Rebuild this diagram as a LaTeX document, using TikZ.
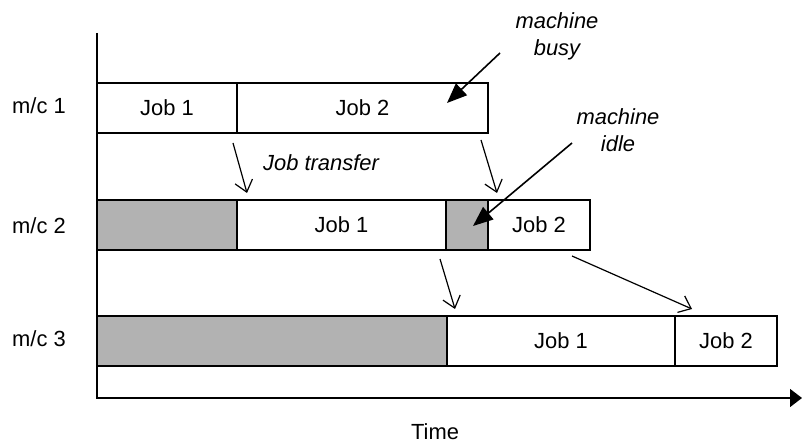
\documentclass[tikz,border=0pt]{standalone}
\usepackage{fontspec}
\setmainfont{Liberation Sans}
\usetikzlibrary{arrows.meta}
\begin{document}
\begin{tikzpicture}[x=1bp,y=-1bp,
  lbl/.style={font=\fontsize{22}{26}\selectfont, inner sep=0},
  note/.style={font=\fontsize{22}{27}\selectfont\itshape, inner sep=0, align=center},
  slot/.style={draw, line width=1.2bp, minimum height=50bp, inner sep=0, outer sep=0,
    anchor=north west, font=\fontsize{22}{26}\selectfont},
  idle/.style={slot, fill=black!30},
  move/.style={line width=1.2bp, -{Straight Barb[length=11bp,width=18bp]}},
  point/.style={line width=1.6bp, -{Triangle[length=20bp,width=16bp]}}]
\useasboundingbox (0,0) rectangle (802,443);

% machine 1
\node[slot, minimum width=140bp] (a1) at (97,83) {Job 1};
\node[slot, minimum width=251bp] (a2) at (a1.north east) {Job 2};
% machine 2
\node[idle, minimum width=140bp] (b0) at (97,200) {};
\node[slot, minimum width=209bp] (b1) at (b0.north east) {Job 1};
\node[idle, minimum width=42bp] (b2) at (b1.north east) {};
\node[slot, minimum width=102bp] (b3) at (b2.north east) {Job 2};
% machine 3
\node[idle, minimum width=350bp] (c0) at (97,316) {};
\node[slot, minimum width=228bp] (c1) at (c0.north east) {Job 1};
\node[slot, minimum width=102bp] (c2) at (c1.north east) {Job 2};

% axes
\coordinate (ytop) at (97,33);
\coordinate (orig) at (97,398);
\coordinate (tend) at (802,398);
\draw[line width=1.4bp, -{Triangle[length=12bp,width=18bp]}] (ytop) -- (orig) -- (tend);

% row and axis labels
\node[lbl] (m1) at (39,106) {m/c 1};
\node[lbl] (m2) at (39,226) {m/c 2};
\node[lbl] (m3) at (39,339) {m/c 3};
\node[lbl] (time) at (435,432) {Time};

% annotations
\node[note] (busy) at (557,36) {machine\\busy};
\node[note] (idlenote) at (618,130) {machine\\idle};
\node[note] (jt) at (321,163) {Job transfer};

% job transfers between machines
\coordinate (t1s) at (233,143); \coordinate (t1e) at (247,193);
\coordinate (t2s) at (481,140); \coordinate (t2e) at (497,193);
\coordinate (t3s) at (440,259); \coordinate (t3e) at (455,309);
\coordinate (t4s) at (572,256); \coordinate (t4e) at (692,309);
\draw[move] (t1s) -- (t1e);
\draw[move] (t2s) -- (t2e);
\draw[move] (t3s) -- (t3e);
\draw[move] (t4s) -- (t4e);

% pointers from the annotations
\coordinate (bs) at (500,53); \coordinate (be) at (447,103);
\coordinate (is) at (572,143); \coordinate (ie) at (473,226);
\draw[point] (bs) -- (be);
\draw[point] (is) -- (ie);
\end{tikzpicture}
\end{document}
